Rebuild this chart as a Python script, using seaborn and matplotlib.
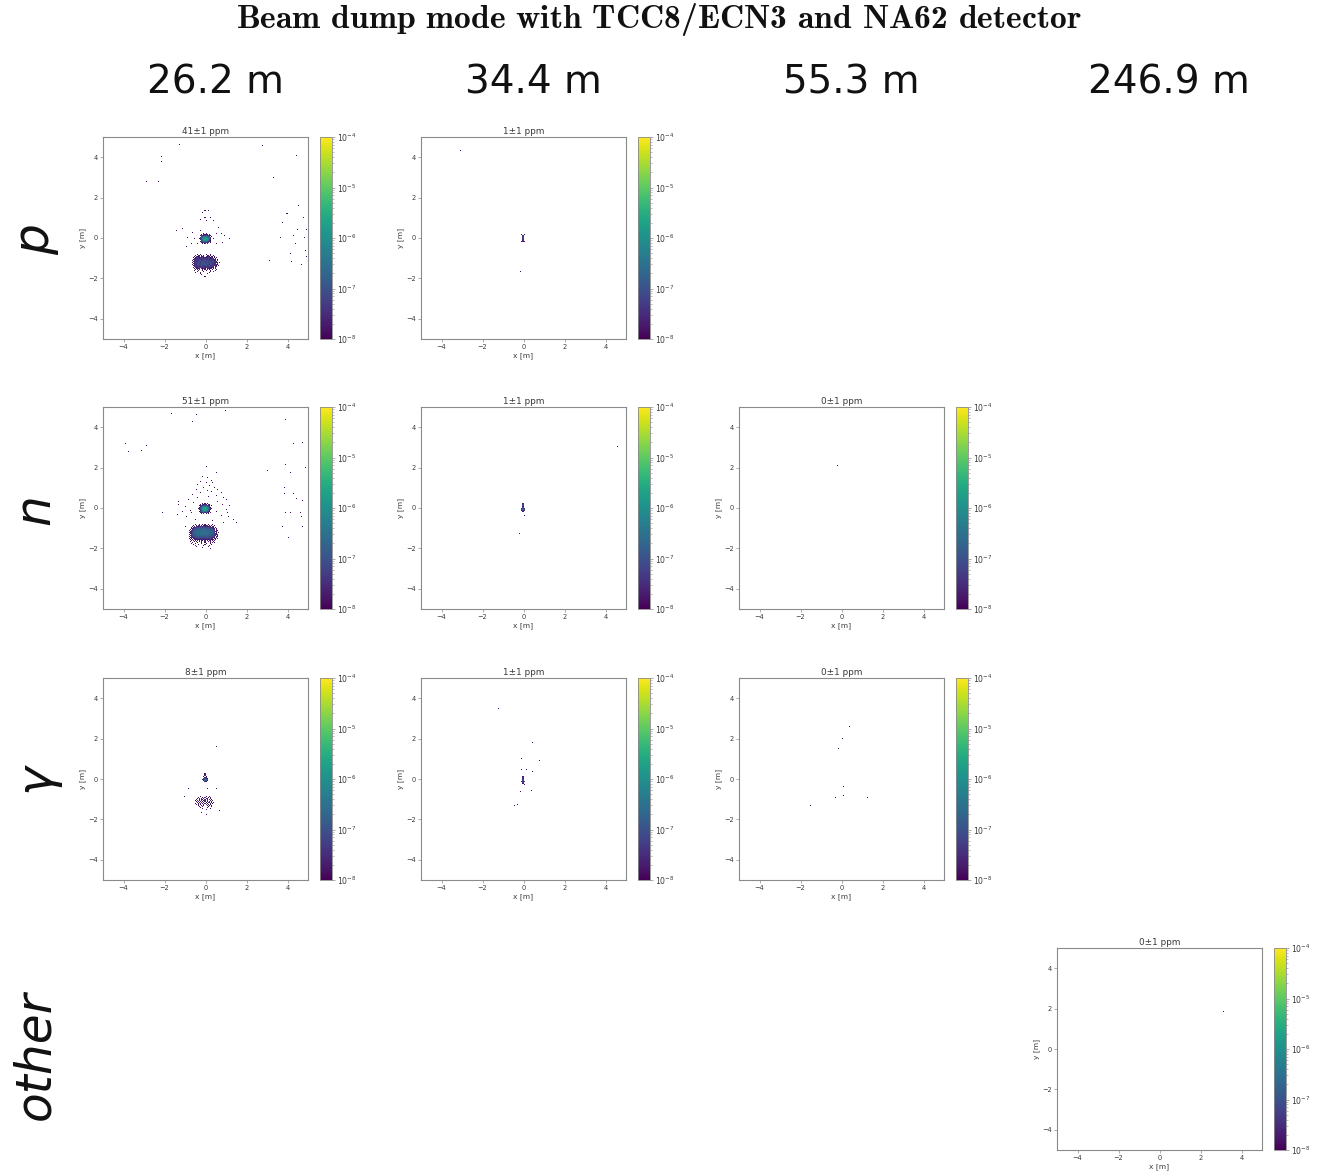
import numpy as np
import matplotlib
matplotlib.use("Agg")
import matplotlib.pyplot as plt
from matplotlib.colors import LogNorm
import seaborn as sns

# ---------------------------------------------------------------------------
# Hit maps: weighted hits per 5 cm x 5 cm cell at each detector plane.
# Dense regions are written as rows of level codes (one character per cell),
# isolated hits as explicit (x, y) lists.
# ---------------------------------------------------------------------------
BIN = 0.05
LEVELS = {"1": 1.5e-8, "2": 3e-8, "3": 6e-8, "4": 1.2e-7, "5": 2.5e-7,
          "6": 5e-7, "7": 1e-6, "8": 2e-6, "9": 4e-6}
SINGLE_HIT = 1.3e-8

DISTANCES = ["26.2 m", "34.4 m", "55.3 m", "246.9 m"]
SPECIES = ["p", "n", "γ", "other"]

# ---- protons, 26.2 m -------------------------------------------------------
P_262_RATE = "41±1 ppm"
P_262_CORE = [
    "....1.1.....",
    "..1.2121.1..",
    ".1232332321.",
    "..34555543.1",
    ".2456776542.",
    "13567887652.",
    ".2467887642.",
    "..356776531.",
    ".1345554321.",
    "..1233332.1.",
    "...1.1.1....",
]
P_262_BLOB = [
    "......1..1....1...1..........",
    "....1..11.1.1..11.1..1.......",
    "...1.2112.121.2121.12.1......",
    "..1.12321223212232121.1.1....",
    "...2132223232322321232.2.....",
    "..1232333232333232323221.1...",
    ".1.223323433343332332322.1...",
    "..12332343334334333343231....",
    ".1.23233433443343343332221.1.",
    "..1233343344343433433322.2...",
    ".1.22334334344433343332321...",
    "..12323333433343333323221.1..",
    "...2232323333232332322.21....",
    "..1.212232323223222121.1.....",
    "...1.1212.2121.12121.1.1.....",
    "....1.1.1..1.1.1.1..1...1....",
    "...1...1...1..1...1....1.....",
    "......1.....1.....1..1.......",
    "....1....1.......1...........",
    ".........1.....1.............",
    "..........1..................",
]
P_262_X = [-1.26, -2.15, -2.12, -2.89, -2.27, 2.77, 4.40, 3.33, 4.51, 3.99, 4.80,
           3.75, 4.46, 4.95, 4.27, 3.70, 4.84, 4.35, 4.89, 4.11, 4.19, 3.13, 4.67,
           4.95, -1.42, -1.10, -0.85, -0.61, -0.53, -0.93, -0.69, -0.37, -0.20,
           -0.12, -0.04, 0.04, 0.24, 0.37, -0.20, 0.53, 0.77, 0.93, 1.18, 0.85,
           0.53, 0.37, 0.61, 0.12, -0.04, -0.04]
P_262_Y = [4.61, 3.77, 4.05, 2.75, 2.75, 4.59, 4.07, 2.97, 1.64, 1.23, 1.03,
           0.79, 0.41, 0.41, 0.13, 0.02, 0.02, -0.28, -0.61, -0.77, -1.18, -1.10,
           -1.30, -0.93, 0.38, 0.46, 0.05, 0.30, -0.03, -0.44, -0.28, -0.28, 0.38,
           1.28, 1.03, 0.87, 1.03, 0.87, 0.95, 0.21, 0.21, 0.13, -0.03, -0.20,
           -0.28, -0.03, 0.54, 1.36, 1.39, -1.92]

# ---- protons, 34.4 m -------------------------------------------------------
P_344_RATE = "1±1 ppm"
P_344_CORE = [
    "1.1",
    ".2.",
    ".3.",
    ".3.",
    ".3.",
    ".2.",
    ".2.",
    "121",
]
P_344_X = [-3.09, -0.14]
P_344_Y = [4.34, -1.67]

# ---- neutrons, 26.2 m ------------------------------------------------------
N_262_RATE = "51±1 ppm"
N_262_CORE = [
    "....1.1.1....",
    "..1.2121.21..",
    ".1233343321.1",
    "..245666542..",
    ".13567876531.",
    "1246788875421",
    ".13578887531.",
    "..246777642..",
    ".1345665431..",
    "..12343321.1.",
    "...1.2.1.1...",
]
N_262_BLOB = [
    "........1...1..1.1..1...1.........",
    "......1..1.21.1.2112.1.1..1.......",
    ".....1.2.21232323232121.21........",
    "....1.12334343434343432321.1......",
    "....12334444544454444433321.1.....",
    "...1.2344545454545454544432.1.....",
    "..1.23445455555555545454443.21....",
    "...12344555555555555554544321.....",
    "..1234455555555555555545443.1.1...",
    "...12345455555555555545454321.....",
    "..1.23444555555555555454443321....",
    "...1234445454545454545444332.1....",
    "..1.23344444444444444443432.21....",
    "...121323434343434343433221.1.....",
    "..1.1.2132323232323232321.21.1....",
    "...1.1.2121212121212122121.1......",
    "....1.1.1.2.1.21.2.1.21.1.1.......",
    "...1...1.1..1.1..1..1.1..1........",
    ".....1....1...1..1....1.1.1.......",
    "....1...1.....1...1...1...........",
    "......1....1.....1.....1..........",
    "........1.......1....1............",
    ".........1..........1.............",
    "...............1..................",
    "......................1...........",
]
N_262_X = [-3.94, -3.78, -3.13, -2.89, -1.67, -0.64, -0.45, 0.97, 3.94, 4.27,
           4.72, 4.89, 3.05, 3.94, 4.11, 3.86, 3.86, 4.27, 4.43, 4.72, 3.94, 4.11,
           4.63, 4.67, 3.75, 4.02, 4.72, -2.07,
           -0.10, 0.10, 0.25, -0.20, 0.05, 0.35, -0.35, 0.20, -0.05, 0.45, 0.60,
           -0.45, 0.10, 0.30, -0.25, 0.75, -0.60, 0.50, 0.15, -0.35, 0.90, 1.05,
           -0.80, -1.30, 0.60, -0.55, 0.85, 1.20, -1.00, -1.30, 1.05, -0.75, 0.55,
           -1.35, 0.75, 1.15, -0.90, -0.50, 0.35, 1.40, 1.55, 0.90, -1.00, -1.15,
           0.00, 0.50, 1.10, -0.65]
N_262_Y = [3.19, 2.78, 2.83, 3.08, 4.67, 4.26, 4.64, 4.84, 4.35, 3.19, 3.22,
           2.01, 1.88, 2.19, 1.78, 1.04, 0.72, 0.72, 0.46, 0.37, -0.22, -0.22,
           -0.22, -0.44, -0.95, -1.45, -0.95, -0.22,
           1.60, 1.55, 1.40, 1.35, 1.30, 1.25, 1.20, 1.15, 1.05, 1.05, 0.95,
           0.95, 0.90, 0.85, 0.80, 0.80, 0.70, 0.65, 0.60, 0.55, 0.55, 0.45,
           0.45, 0.35, 0.35, 0.30, 0.20, 0.15, 0.10, 0.20, -0.05, -0.10, -0.15,
           -0.30, -0.35, -0.40, -0.45, -0.55, -0.60, -0.55, -0.75, -0.75, -0.95,
           -0.15, 2.10, 1.80, -0.20, -0.25]

# ---- neutrons, 34.4 m ------------------------------------------------------
N_344_RATE = "1±1 ppm"
N_344_CORE = [
    ".2.",
    ".3.",
    ".3.",
    ".2.",
    ".3.",
    "242",
    "353",
    "232",
    ".1.",
]
N_344_X = [4.58, -0.19, 0.05]
N_344_Y = [3.04, -1.28, -0.35]

# ---- neutrons, 55.3 m ------------------------------------------------------
N_553_RATE = "0±1 ppm"
N_553_X = [-0.15]
N_553_Y = [2.15]

# ---- photons, 26.2 m -------------------------------------------------------
G_262_RATE = "8±1 ppm"
G_262_CORE = [
    "..1..",
    "..1..",
    "..2..",
    ".1.1.",
    "..21.",
    ".2431",
    "13553",
    ".2541",
    "..21.",
]
G_262_BLOB = [
    "......1....1..1......",
    "....1...1.2..1.1.....",
    "...1.2.1.2.12..1.....",
    "..1..1.21.2.1.2.1....",
    ".1.2.1.2.12.2..1.1...",
    "..1.2.1.1.2.1.2.1....",
    "...1.2.2.1.1.21.1.1..",
    ".1..1.2.1.2.1..2.1...",
    "..1.1.1..1.2.1.1.....",
    "....1..1.1..1.1.1....",
    ".....1..1....1..1....",
    "......1.....1........",
    "........1......1.....",
    "...........1.........",
]
G_262_X = [0.50, -0.80, 0.53, 0.07, -1.02, 0.69, 0.04, -0.17]
G_262_Y = [1.65, -0.46, -0.46, -0.46, -0.89, -1.55, -1.78, -1.66]

# ---- photons, 34.4 m -------------------------------------------------------
G_344_RATE = "1±1 ppm"
G_344_CORE = [
    ".1.",
    ".2.",
    ".2.",
    ".3.",
    ".3.",
    "132",
    ".2.",
    ".1.",
    "..1",
]
G_344_X = [-1.25, 0.43, -0.07, 0.76, -0.07, 0.11, 0.43, -0.10, 0.40, -0.43, -0.26]
G_344_Y = [3.47, 1.84, 1.05, 0.92, 0.47, 0.47, 0.39, -0.64, -0.59, -1.33, -1.28]

# ---- photons, 55.3 m -------------------------------------------------------
G_553_RATE = "0±1 ppm"
G_553_X = [0.38, 0.05, -0.10, 0.10, 0.07, -0.26, 1.27, -1.54]
G_553_Y = [2.58, 2.01, 1.55, -0.39, -0.84, -0.95, -0.92, -1.30]

# ---- other, 246.9 m --------------------------------------------------------
O_2469_RATE = "0±1 ppm"
O_2469_X = [3.10]
O_2469_Y = [1.90]


def grid_hits(rows, x0, y0):
    """Turn rows of level codes into cell-centre hits with weights."""
    xs, ys, ws = [], [], []
    for i, row in enumerate(rows):
        for j, ch in enumerate(row):
            if ch in LEVELS:
                xs.append(x0 + j * BIN)
                ys.append(y0 - i * BIN)
                ws.append(LEVELS[ch])
    return xs, ys, ws


def collect(grids, sx, sy):
    xs, ys, ws = [], [], []
    for rows, x0, y0 in grids:
        gx, gy, gw = grid_hits(rows, x0, y0)
        xs += gx
        ys += gy
        ws += gw
    xs += list(sx)
    ys += list(sy)
    ws += [SINGLE_HIT] * len(sx)
    return np.array(xs), np.array(ys), np.array(ws)


# (row, col, title, grids, scatter x, scatter y)
PANELS = [
    (0, 0, P_262_RATE, [(P_262_CORE, -0.275, 0.225), (P_262_BLOB, -0.675, -0.825)], P_262_X, P_262_Y),
    (0, 1, P_344_RATE, [(P_344_CORE, -0.075, 0.175)], P_344_X, P_344_Y),
    (1, 0, N_262_RATE, [(N_262_CORE, -0.325, 0.225), (N_262_BLOB, -0.875, -0.825)], N_262_X, N_262_Y),
    (1, 1, N_344_RATE, [(N_344_CORE, -0.075, 0.225)], N_344_X, N_344_Y),
    (1, 2, N_553_RATE, [], N_553_X, N_553_Y),
    (2, 0, G_262_RATE, [(G_262_CORE, -0.125, 0.275), (G_262_BLOB, -0.525, -0.875)], G_262_X, G_262_Y),
    (2, 1, G_344_RATE, [(G_344_CORE, -0.075, 0.125)], G_344_X, G_344_Y),
    (2, 2, G_553_RATE, [], G_553_X, G_553_Y),
    (3, 3, O_2469_RATE, [], O_2469_X, O_2469_Y),
]

# ---------------------------------------------------------------------------
sns.set_style("ticks")
plt.rcParams["font.family"] = ["DejaVu Sans"]
plt.rcParams["mathtext.fontset"] = "custom"
plt.rcParams["mathtext.bf"] = "cmb10"
plt.rcParams["mathtext.rm"] = "cmr10"

W, H = 1317, 1176
fig = plt.figure(figsize=(W / 100, H / 100), dpi=100)

AX_LEFT = [103, 421, 739, 1057]
AX_TOP = [137, 407, 678, 948]
AX_W, AX_H = 205, 202
CB_OFF, CB_W = 217, 12
TXT = "#3a3a3a"
EDGE = "#8a8a8a"

for row, col, title, grids, sx, sy in PANELS:
    left, top = AX_LEFT[col], AX_TOP[row]
    ax = fig.add_axes([left / W, 1 - (top + AX_H) / H, AX_W / W, AX_H / H])
    cax = fig.add_axes([(left + CB_OFF) / W, 1 - (top + AX_H) / H, CB_W / W, AX_H / H])
    xs, ys, ws = collect(grids, sx, sy)
    sns.histplot(x=xs, y=ys, weights=ws, bins=200, binrange=((-5, 5), (-5, 5)),
                 cmap="viridis", cbar=False, ax=ax)
    mesh = ax.collections[-1]
    mesh.set_norm(LogNorm(vmin=1e-8, vmax=1e-4))
    cb = fig.colorbar(mesh, cax=cax)
    cb.outline.set_edgecolor(EDGE)
    cb.outline.set_linewidth(0.6)
    ax.set_xlim(-5, 5)
    ax.set_ylim(-5, 5)
    ax.set_xticks([-4, -2, 0, 2, 4])
    ax.set_yticks([-4, -2, 0, 2, 4])
    ax.set_title(title, fontsize=6.4, color=TXT, pad=2.5)
    ax.set_xlabel("x [m]", fontsize=5.4, color=TXT, labelpad=1.5)
    ax.set_ylabel("y [m]", fontsize=5.4, color=TXT, labelpad=1.5)
    ax.tick_params(labelsize=4.8, length=2, width=0.5, pad=1.5,
                   colors=TXT, color=EDGE)
    for sp in ax.spines.values():
        sp.set_visible(True)
        sp.set_color(EDGE)
        sp.set_linewidth(0.8)
    cax.tick_params(which="major", labelsize=5.6, length=2, width=0.5, pad=1.5,
                    colors=TXT, color=EDGE)
    cax.tick_params(which="minor", length=1.2, width=0.4, color=EDGE)

fig.text(0.5, 1 - 19 / H,
         r"$\mathbf{Beam\ dump\ mode\ with\ TCC8/ECN3\ and\ NA62\ detector}$",
         ha="center", va="center", fontsize=24.2, color="#111111")

for col, label in enumerate(DISTANCES):
    fig.text((215 + 318 * col) / W, 1 - 83 / H, label, ha="center", va="center",
             fontsize=28, color="#111111")

ROW_CENTERS = [240, 510, 778, 1055]
for row, label in enumerate(SPECIES):
    fig.text(35 / W, 1 - ROW_CENTERS[row] / H, label, ha="center", va="center",
             rotation=90, fontsize=35, fontstyle="italic", color="#111111")

fig.savefig("out.png", dpi=100, facecolor="white")
